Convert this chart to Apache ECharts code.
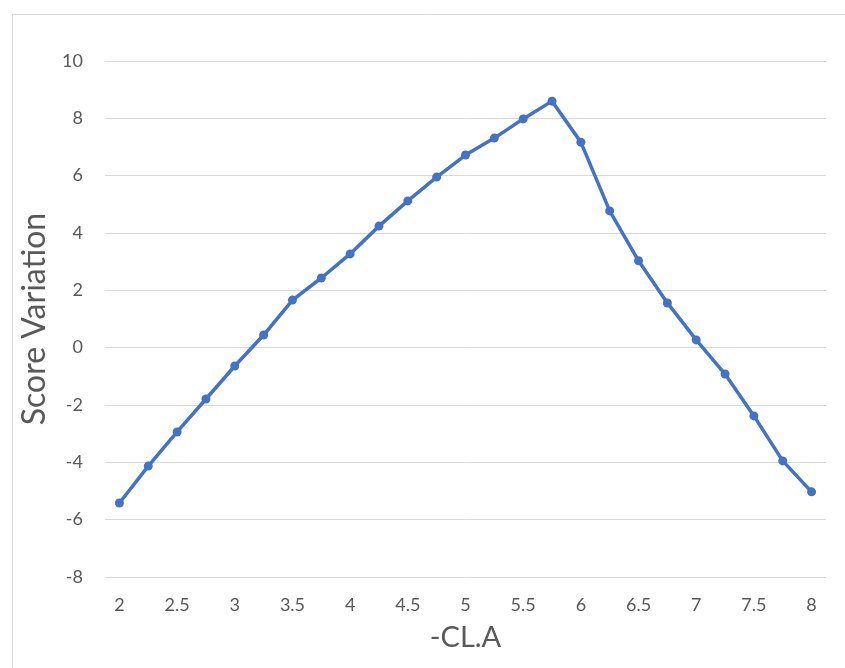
<!DOCTYPE html>
<html>
<head>
<meta charset="utf-8">
<script src="https://cdn.jsdelivr.net/npm/echarts@6/dist/echarts.min.js"></script>
<style>html,body{margin:0;padding:0;background:#fff}#c{width:845px;height:668px}</style>
</head>
<body>
<div id="c"></div>
<script>
var categories = ["2","2.25","2.5","2.75","3","3.25","3.5","3.75","4","4.25","4.5","4.75","5","5.25","5.5","5.75","6","6.25","6.5","6.75","7","7.25","7.5","7.75","8"];
var scoreVariation = [-5.42,-4.13,-2.94,-1.79,-0.64,0.44,1.66,2.43,3.27,4.24,5.12,5.95,6.72,7.31,7.98,8.60,7.17,4.77,3.03,1.56,0.27,-0.92,-2.38,-3.95,-5.03];
var yMin = -8, yMax = 10, yStep = 2;

var chart = echarts.init(document.getElementById('c'), null, {renderer: 'canvas'});
var font = 'Lato, "Open Sans", sans-serif';
chart.setOption({
  animation: false,
  backgroundColor: '#fff',
  graphic: [{
    type: 'rect', left: 10, top: 12, shape: {width: 900, height: 700},
    style: {fill: 'none', stroke: '#d9d9d9', lineWidth: 1}, silent: true
  }],
  grid: {left: 105, right: 19, top: 61, bottom: 91},
  xAxis: {
    type: 'category',
    data: categories,
    boundaryGap: true,
    name: '-CL.A',
    nameLocation: 'middle',
    nameGap: 46,
    nameTextStyle: {fontSize: 29, color: '#595959', fontFamily: font},
    axisLine: {show: false},
    axisTick: {show: false},
    axisLabel: {interval: 1, fontSize: 18, color: '#595959', fontFamily: font, margin: 19}
  },
  yAxis: {
    type: 'value',
    min: yMin, max: yMax, interval: yStep,
    name: 'Score Variation',
    nameLocation: 'middle',
    nameGap: 54,
    nameTextStyle: {fontSize: 32, color: '#595959', fontFamily: font},
    axisLine: {show: false},
    axisTick: {show: false},
    axisLabel: {fontSize: 18, color: '#595959', fontFamily: font, margin: 22},
    splitLine: {lineStyle: {color: '#d9d9d9', width: 1}}
  },
  series: [{
    type: 'line',
    data: scoreVariation,
    symbol: 'circle',
    symbolSize: 9,
    lineStyle: {color: '#4472C4', width: 3.5},
    itemStyle: {color: '#4472C4'}
  }]
});
</script>
</body>
</html>
